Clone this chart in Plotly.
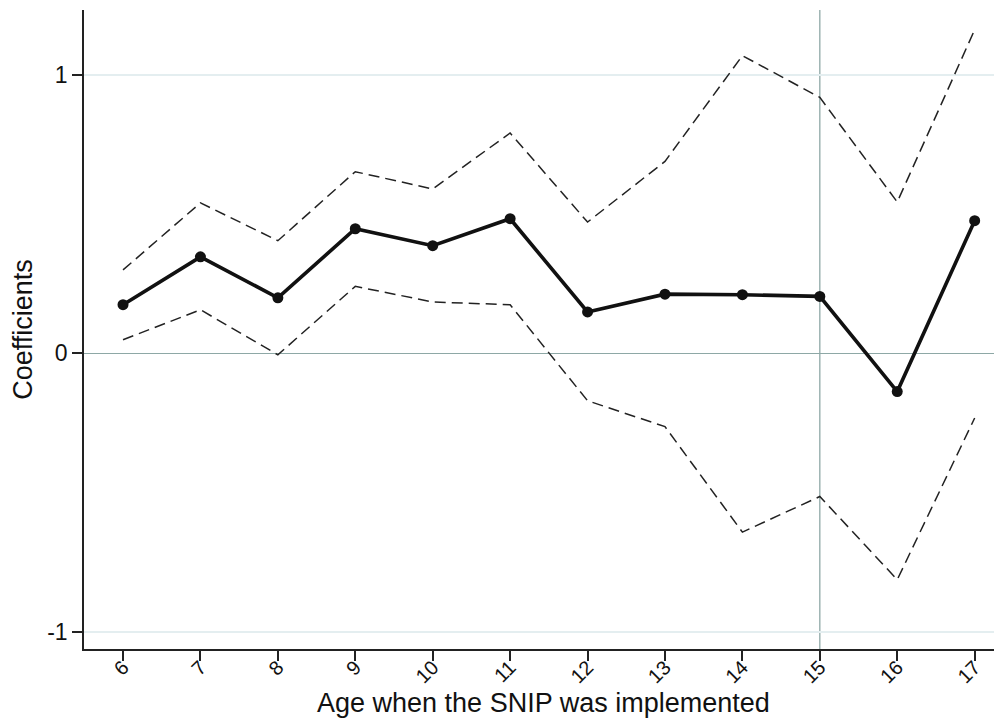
import plotly.graph_objects as go

ages = [6, 7, 8, 9, 10, 11, 12, 13, 14, 15, 16, 17]
coef = [0.175, 0.347, 0.200, 0.448, 0.387, 0.484, 0.149, 0.213, 0.211, 0.205, -0.137, 0.477]
upper = [0.300, 0.541, 0.405, 0.653, 0.591, 0.792, 0.472, 0.690, 1.070, 0.920, 0.544, 1.163]
lower = [0.049, 0.157, -0.005, 0.241, 0.185, 0.175, -0.170, -0.263, -0.642, -0.514, -0.813, -0.232]
y_ticks = [-1, 0, 1]
ref_age = 15
x_title = "Age when the SNIP was implemented"
y_title = "Coefficients"

FONT = "Liberation Sans, Arial, Helvetica, sans-serif"

fig = go.Figure()
for band in (upper, lower):
    fig.add_trace(go.Scatter(x=ages, y=band, mode="lines",
                             line=dict(color="#222222", width=1.5, dash="11px,6px"),
                             showlegend=False, hoverinfo="skip"))
fig.add_trace(go.Scatter(x=ages, y=coef, mode="lines+markers",
                         line=dict(color="#111111", width=3.6),
                         marker=dict(color="#111111", size=11),
                         showlegend=False))

fig.add_shape(type="line", xref="x", yref="paper", x0=ref_age, x1=ref_age, y0=0, y1=1,
              line=dict(color="#8ea8a6", width=1.3), layer="below")

fig.add_annotation(text=x_title, xref="paper", yref="paper", x=0.5, y=0,
                   xanchor="center", yanchor="top", yshift=-37, showarrow=False,
                   font=dict(size=27, family=FONT, color="#111111"))

# the page body adds an 8px offset, so the figure is sized/margined to compensate
fig.update_layout(
    width=994, height=716,
    margin=dict(l=76, r=0, t=2, b=75),
    paper_bgcolor="white", plot_bgcolor="white",
    font=dict(family=FONT, color="#111111"),
    xaxis=dict(range=[5.496, 17.353], tickvals=ages, ticktext=[str(a) for a in ages],
               tickangle=-45, ticks="outside", ticklen=10, tickwidth=1.6, tickcolor="#222222",
               showline=True, linecolor="#222222", linewidth=1.6, showgrid=False, zeroline=False,
               tickfont=dict(size=20, family=FONT), ticklabelstandoff=-13, automargin=False),
    yaxis=dict(range=[-1.062, 1.234], tickvals=y_ticks, ticktext=[str(v) for v in y_ticks],
               ticks="outside", ticklen=10, tickwidth=1.6, tickcolor="#222222",
               showline=True, linecolor="#222222", linewidth=1.6,
               showgrid=True, gridcolor="#e4eef0", gridwidth=1.6,
               zeroline=True, zerolinecolor="#8ea8a6", zerolinewidth=1.4,
               tickfont=dict(size=23, family=FONT), ticklabelstandoff=0,
               title=dict(text=y_title, font=dict(size=27, family=FONT), standoff=13)),
)

fig.write_html("out.html")
